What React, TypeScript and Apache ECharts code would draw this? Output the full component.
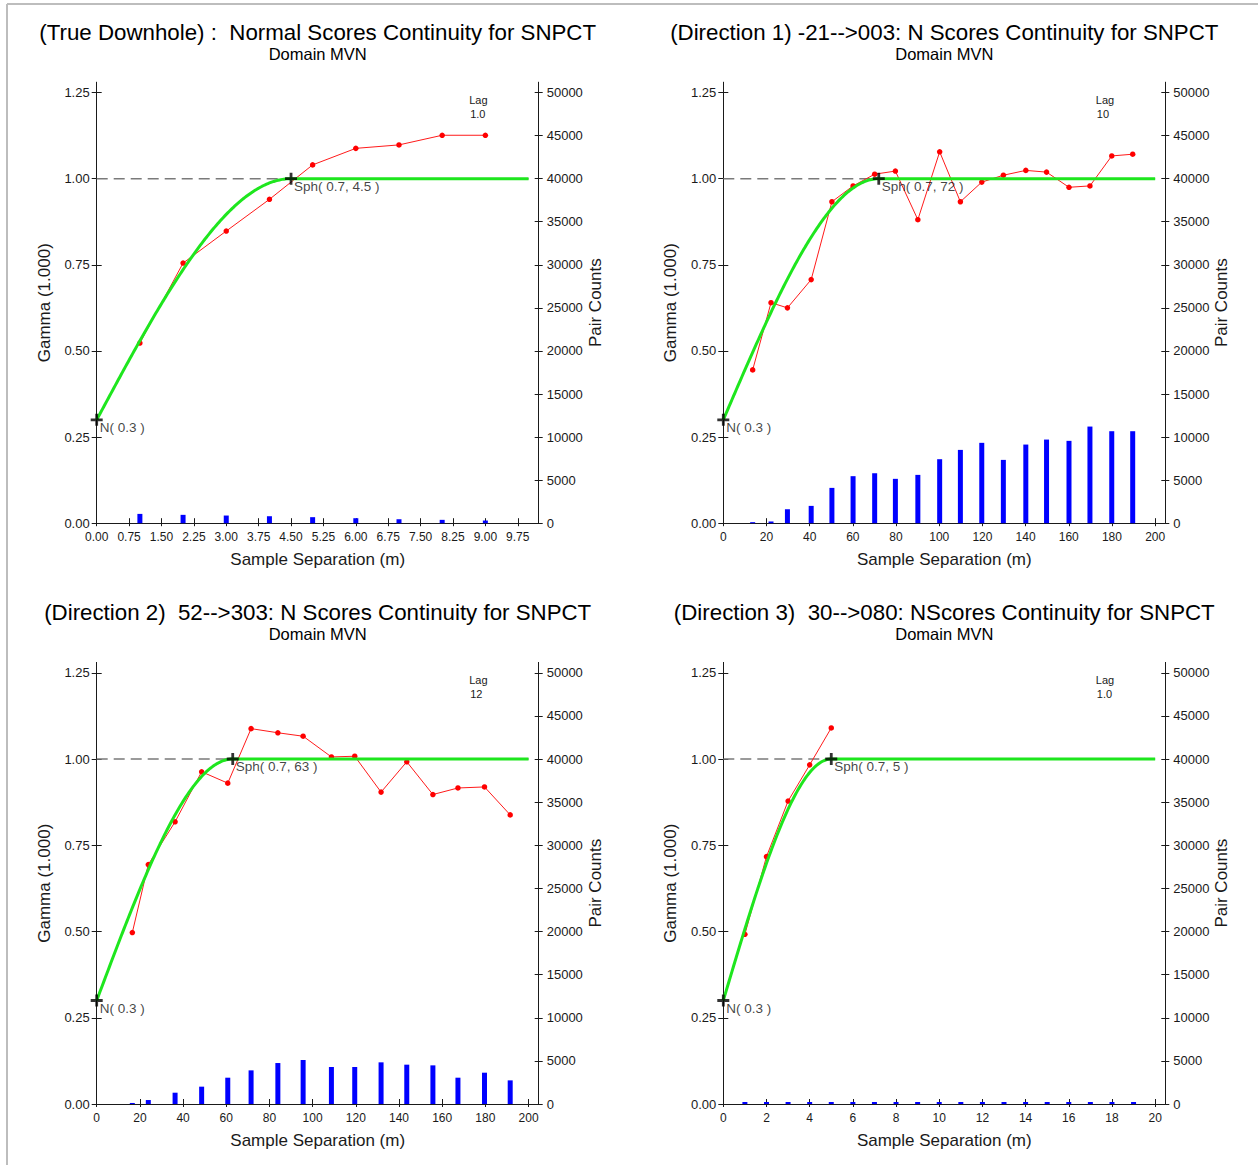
import React, { useEffect, useRef } from "react";
import * as echarts from "echarts";

const FONT = '"Liberation Sans", Arial, Helvetica, sans-serif';
const INK = "#1a1a1a";

// ---------- text ----------
const titles = [
  "(True Downhole) :  Normal Scores Continuity for SNPCT",
  "(Direction 1) -21-->003: N Scores Continuity for SNPCT",
  "(Direction 2)  52-->303: N Scores Continuity for SNPCT",
  "(Direction 3)  30-->080: NScores Continuity for SNPCT",
];
const subtitle = "Domain MVN";
const lagValues = ["1.0", "10", "12", "1.0"];
const xAxisName = "Sample Separation (m)";
const yLeftName = "Gamma (1.000)";
const yRightName = "Pair Counts";

// ---------- tick labels ----------
const xTickIntervals = [0.75, 20, 20, 2];
const xTickEnds = [9.75, 200, 200, 20];
const xTickDecimals = [2, 0, 0, 0];
const gammaTicks = [0, 0.25, 0.5, 0.75, 1.0, 1.25];
const pairTicks = [0, 5000, 10000, 15000, 20000, 25000, 30000, 35000, 40000, 45000, 50000];

// ---------- models ----------
const nuggets = [0.3, 0.3, 0.3, 0.3];
const sills = [0.7, 0.7, 0.7, 0.7];
const ranges = [4.5, 72, 63, 5];
const modelEnds = [10, 200, 200, 20];

// ---------- experimental data ----------
// Panel 1: True Downhole
const p1Lags = [1, 2, 3, 4, 5, 6, 7, 8, 9];
const p1Gamma = [0.523, 0.755, 0.848, 0.94, 1.04, 1.088, 1.098, 1.126, 1.126];
const p1PairLags = [1, 2, 3, 4, 5, 6, 7, 8, 9];
const p1Pairs = [1080, 970, 890, 810, 700, 580, 460, 390, 310];

// Panel 2: Direction 1
const p2Lags = [13.6, 22.1, 29.7, 40.7, 50.3, 60.1, 70.1, 79.7, 90.1, 100.2, 109.8, 119.7, 129.7, 140.1, 149.7, 160.1, 169.8, 179.9, 189.6];
const p2Gamma = [0.445, 0.64, 0.625, 0.707, 0.933, 0.979, 1.013, 1.022, 0.881, 1.078, 0.933, 0.99, 1.01, 1.024, 1.019, 0.975, 0.979, 1.066, 1.071];
const p2PairLags = [13.6, 22.1, 29.7, 40.7, 50.3, 60.1, 70.1, 79.7, 90.1, 100.2, 109.8, 119.7, 129.7, 140.1, 149.7, 160.1, 169.8, 179.9, 189.6];
const p2Pairs = [120, 200, 1620, 2010, 4100, 5460, 5800, 5150, 5610, 7430, 8510, 9330, 7350, 9130, 9710, 9560, 11220, 10680, 10680];

// Panel 3: Direction 2
const p3Lags = [16.5, 23.9, 36.3, 48.6, 60.7, 71.5, 83.9, 95.6, 108.7, 119.5, 131.7, 143.6, 155.7, 167.3, 179.6, 191.5];
const p3Gamma = [0.497, 0.694, 0.818, 0.963, 0.93, 1.088, 1.076, 1.066, 1.006, 1.008, 0.904, 0.992, 0.897, 0.916, 0.919, 0.838];
const p3PairLags = [16.5, 23.9, 36.3, 48.6, 60.7, 71.5, 83.9, 95.6, 108.7, 119.5, 131.7, 143.6, 155.7, 167.3, 179.6, 191.5];
const p3Pairs = [120, 460, 1310, 2010, 3050, 3900, 4750, 5100, 4290, 4290, 4830, 4560, 4480, 3050, 3630, 2740];

// Panel 4: Direction 3
const p4Lags = [1, 2, 3, 4, 5];
const p4Gamma = [0.492, 0.717, 0.878, 0.983, 1.09];
const p4PairLags = [1, 2, 3, 4, 5, 6, 7, 8, 9, 10, 11, 12, 13, 14, 15, 16, 17, 18, 19];
const p4Pairs = [200, 110, 100, 110, 100, 70, 50, 50, 50, 50, 50, 50, 50, 50, 50, 50, 50, 50, 50];

const lagsList = [p1Lags, p2Lags, p3Lags, p4Lags];
const gammaList = [p1Gamma, p2Gamma, p3Gamma, p4Gamma];
const pairLagsList = [p1PairLags, p2PairLags, p3PairLags, p4PairLags];
const pairsList = [p1Pairs, p2Pairs, p3Pairs, p4Pairs];

// ---------- layout ----------
const gridLefts = [96.7, 723.3, 96.7, 723.3];
const gridTops = [82.2, 82.2, 662.4, 662.4];
const gridWidth = 442;
const gridHeights = [441, 441, 441.6, 441.6];
const xMaxFactor = 1.0235;
const gammaMax = 1.28;
const pairMax = 51200;

function sphericalModel(n: number, c: number, a: number, h: number) {
  if (h >= a) return n + c;
  const r = h / a;
  return n + c * (1.5 * r - 0.5 * r * r * r);
}

function buildOption() {
  const grids: any[] = [];
  const xAxes: any[] = [];
  const yAxes: any[] = [];
  const series: any[] = [];
  const graphics: any[] = [];

  const text = (size: number) => ({ fontFamily: FONT, fontSize: size, color: INK });

  for (let i = 0; i < 4; i++) {
    const L = gridLefts[i];
    const T = gridTops[i];
    const H = gridHeights[i];
    const xMax = modelEnds[i] * xMaxFactor;
    const xInt = xTickIntervals[i];
    const xt: number[] = [];
    for (let k = 0; k * xInt <= xTickEnds[i] + 1e-9; k++) xt.push(+(k * xInt).toFixed(4));
    const dec = xTickDecimals[i];

    const gMain = grids.length;
    grids.push({ left: L, top: T, width: gridWidth, height: H });
    const gOver = grids.length;
    grids.push({ left: L, top: T, width: gridWidth, height: H });

    const xMainIdx = xAxes.length;
    xAxes.push({
      type: "value",
      gridIndex: gMain,
      position: "bottom",
      min: 0,
      max: xMax,
      interval: xInt,
      axisLine: { show: true, onZero: false, lineStyle: { color: INK, width: 1 } },
      axisTick: { show: true, inside: false, length: 3, customValues: xt, lineStyle: { color: INK } },
      axisLabel: {
        customValues: xt,
        formatter: (v: number) => v.toFixed(dec),
        margin: 8,
        ...text(12),
      },
      splitLine: { show: false },
      name: xAxisName,
      nameLocation: "middle",
      nameGap: 28,
      nameTextStyle: text(17),
    });
    xAxes.push({
      type: "value",
      gridIndex: gOver,
      position: "bottom",
      min: 0,
      max: xMax,
      interval: xInt,
      axisLine: { show: false },
      axisTick: { show: true, inside: true, length: 5, customValues: xt, lineStyle: { color: INK } },
      axisLabel: { show: false },
      splitLine: { show: false },
    });

    const yLeftIdx = yAxes.length;
    yAxes.push({
      type: "value",
      gridIndex: gMain,
      position: "left",
      min: 0,
      max: gammaMax,
      interval: 0.25,
      axisLine: { show: true, onZero: false, lineStyle: { color: INK, width: 1 } },
      axisTick: { show: true, inside: false, length: 5, customValues: gammaTicks, lineStyle: { color: INK } },
      axisLabel: { customValues: gammaTicks, formatter: (v: number) => v.toFixed(2), margin: 7, ...text(13) },
      splitLine: { show: false },
      name: yLeftName,
      nameLocation: "middle",
      nameGap: 44,
      nameTextStyle: text(17),
    });
    const yRightIdx = yAxes.length;
    yAxes.push({
      type: "value",
      gridIndex: gMain,
      position: "right",
      min: 0,
      max: pairMax,
      interval: 5000,
      axisLine: { show: true, onZero: false, lineStyle: { color: INK, width: 1 } },
      axisTick: { show: true, inside: false, length: 4, customValues: pairTicks, lineStyle: { color: INK } },
      axisLabel: { customValues: pairTicks, formatter: (v: number) => String(v), margin: 8, ...text(13) },
      splitLine: { show: false },
      name: yRightName,
      nameLocation: "middle",
      nameGap: 41,
      nameTextStyle: text(17),
    });
    yAxes.push({
      type: "value",
      gridIndex: gOver,
      position: "left",
      min: 0,
      max: gammaMax,
      interval: 0.25,
      axisLine: { show: false },
      axisTick: { show: true, inside: true, length: 5, customValues: gammaTicks, lineStyle: { color: INK } },
      axisLabel: { show: false },
      splitLine: { show: false },
    });
    yAxes.push({
      type: "value",
      gridIndex: gOver,
      position: "right",
      min: 0,
      max: pairMax,
      interval: 5000,
      axisLine: { show: false },
      axisTick: { show: true, inside: true, length: 4, customValues: pairTicks, lineStyle: { color: INK } },
      axisLabel: { show: false },
      splitLine: { show: false },
    });

    // pair count bars
    series.push({
      type: "bar",
      xAxisIndex: xMainIdx,
      yAxisIndex: yRightIdx,
      data: pairLagsList[i].map((x, k) => [x, pairsList[i][k]]),
      barWidth: 5,
      barMinHeight: i === 3 ? 2 : 0,
      itemStyle: { color: "#0000ff" },
      z: 1,
      silent: true,
    });

    // sill reference (dashed)
    series.push({
      type: "line",
      xAxisIndex: xMainIdx,
      yAxisIndex: yLeftIdx,
      data: [
        [0, nuggets[i] + sills[i]],
        [modelEnds[i], nuggets[i] + sills[i]],
      ],
      symbol: "none",
      lineStyle: { color: "#7a7a7a", width: 1.5, type: [11, 6] },
      z: 2,
      silent: true,
    });

    // experimental variogram
    series.push({
      type: "line",
      xAxisIndex: xMainIdx,
      yAxisIndex: yLeftIdx,
      data: lagsList[i].map((x, k) => [x, gammaList[i][k]]),
      symbol: "circle",
      symbolSize: 5.5,
      itemStyle: { color: "#ff0000" },
      lineStyle: { color: "#ff1a1a", width: 1 },
      z: 3,
      silent: true,
    });

    // spherical model curve (from the model parameters shown in the chart)
    const model: number[][] = [];
    const steps = 300;
    for (let s = 0; s <= steps; s++) {
      const h = (modelEnds[i] * s) / steps;
      model.push([h, sphericalModel(nuggets[i], sills[i], ranges[i], h)]);
    }
    model.push([ranges[i], nuggets[i] + sills[i]]);
    model.sort((a, b) => a[0] - b[0]);
    series.push({
      type: "line",
      xAxisIndex: xMainIdx,
      yAxisIndex: yLeftIdx,
      data: model,
      symbol: "none",
      lineStyle: { color: "#1ee61e", width: 3 },
      z: 4,
      silent: true,
    });

    // crosses with model labels
    const labelStyle = {
      show: true,
      position: [9, 6.5],
      fontFamily: FONT,
      fontSize: 13.5,
      color: "#111",
    };
    series.push({
      type: "scatter",
      xAxisIndex: xMainIdx,
      yAxisIndex: yLeftIdx,
      symbol: "path://M4.6,0H7.4V4.6H12V7.4H7.4V12H4.6V7.4H0V4.6H4.6Z",
      symbolSize: 12,
      itemStyle: { color: "#000" },
      data: [
        { value: [0, nuggets[i]], label: { ...labelStyle, formatter: `N( ${nuggets[i]} )` } },
        {
          value: [ranges[i], nuggets[i] + sills[i]],
          label: { ...labelStyle, formatter: `Sph( ${sills[i]}, ${ranges[i]} )` },
        },
      ],
      z: 5,
      silent: true,
    });

    // titles and lag text
    const cx = L + gridWidth / 2;
    const yOff = i < 2 ? 0 : 580;
    graphics.push({
      type: "text",
      x: cx,
      y: 32 + yOff,
      style: { text: titles[i], font: `22.3px ${FONT}`, fill: "#000", textAlign: "center", textVerticalAlign: "middle" },
    });
    graphics.push({
      type: "text",
      x: cx,
      y: 54 + yOff,
      style: { text: subtitle, font: `16.5px ${FONT}`, fill: "#000", textAlign: "center", textVerticalAlign: "middle" },
    });
    const lx = L + gridWidth - 69.5;
    graphics.push({
      type: "text",
      x: lx,
      y: 100 + yOff,
      style: { text: "Lag", font: `11px ${FONT}`, fill: INK, textAlign: "left", textVerticalAlign: "middle" },
    });
    graphics.push({
      type: "text",
      x: lx + 1,
      y: 114 + yOff,
      style: { text: lagValues[i], font: `11px ${FONT}`, fill: INK, textAlign: "left", textVerticalAlign: "middle" },
    });
  }

  // page frame
  graphics.push({
    type: "line",
    shape: { x1: 7, y1: 4, x2: 7, y2: 1165 },
    style: { stroke: "#bdbdbd", lineWidth: 2 },
  });
  graphics.push({
    type: "line",
    shape: { x1: 7, y1: 4, x2: 1258, y2: 4 },
    style: { stroke: "#bdbdbd", lineWidth: 2 },
  });

  return {
    animation: false,
    backgroundColor: "#ffffff",
    textStyle: { fontFamily: FONT },
    grid: grids,
    xAxis: xAxes,
    yAxis: yAxes,
    series,
    graphic: graphics,
  };
}

export default function App() {
  const ref = useRef<HTMLDivElement>(null);
  useEffect(() => {
    if (!ref.current) return;
    const chart = echarts.init(ref.current, null, { renderer: "svg" });
    chart.setOption(buildOption() as any);
    return () => chart.dispose();
  }, []);
  return (
    <div
      ref={ref}
      style={{ position: "absolute", left: 0, top: 0, width: 1258, height: 1165, background: "#fff" }}
    />
  );
}
